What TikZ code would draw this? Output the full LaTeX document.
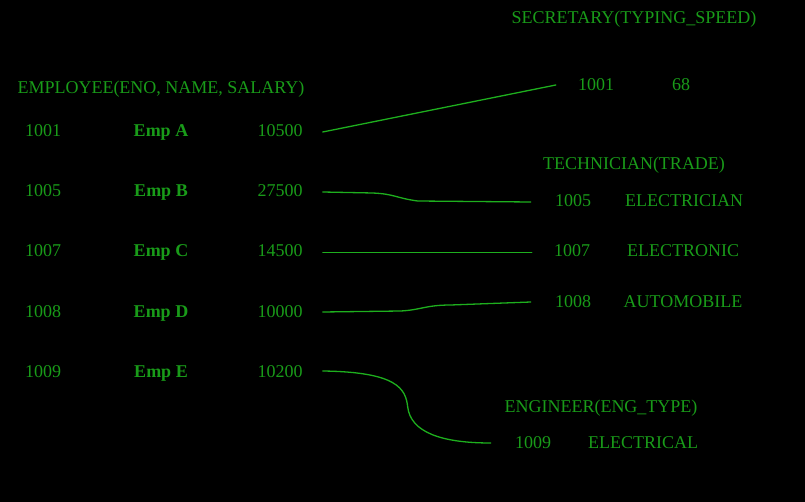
\documentclass[tikz,border=0pt]{standalone}
\usepackage{fontspec}
\setmainfont{Liberation Serif}
\definecolor{txtgreen}{RGB}{25,155,25}
\definecolor{lngreen}{RGB}{30,175,30}
\tikzset{
  lbl/.style={text=txtgreen, font=\fontsize{18}{21}\selectfont, inner sep=0pt, text height=14pt, text depth=2pt, anchor=center},
  blbl/.style={lbl, font=\fontsize{18}{21}\selectfont\bfseries},
  link/.style={draw=lngreen, line width=1.3pt, line cap=round}
}
\begin{document}
\begin{tikzpicture}[x=1pt,y=-1pt]
\fill[black] (0,0) rectangle (805,502);
\useasboundingbox (0,0) rectangle (805,502);
% headings
\node[lbl] (secH) at (634,18) {SECRETARY(TYPING\_SPEED)};
\node[lbl] (empH) at (161,88) {EMPLOYEE(ENO, NAME, SALARY)};
\node[lbl] (tecH) at (634,164) {TECHNICIAN(TRADE)};
\node[lbl] (engH) at (601,406) {ENGINEER(ENG\_TYPE)};
% employee rows
\node[lbl] (e1) at (43,131) {1001};
\node[blbl] (n1) at (161,131) {Emp A};
\node[lbl] (s1) at (280,131) {10500};
\node[lbl] (e2) at (43,191) {1005};
\node[blbl] (n2) at (161,191) {Emp B};
\node[lbl] (s2) at (280,191) {27500};
\node[lbl] (e3) at (43,251) {1007};
\node[blbl] (n3) at (161,251) {Emp C};
\node[lbl] (s3) at (280,251) {14500};
\node[lbl] (e4) at (43,311) {1008};
\node[blbl] (n4) at (161,311) {Emp D};
\node[lbl] (s4) at (280,311) {10000};
\node[lbl] (e5) at (43,371) {1009};
\node[blbl] (n5) at (161,371) {Emp E};
\node[lbl] (s5) at (280,371) {10200};
% secretary
\node[lbl] (sec1) at (596,85) {1001};
\node[lbl] (sec2) at (681,85) {68};
% technician
\node[lbl] (t1) at (573,201) {1005};
\node[lbl] (t1b) at (684,201) {ELECTRICIAN};
\node[lbl] (t2) at (572,251) {1007};
\node[lbl] (t2b) at (683,251) {ELECTRONIC};
\node[lbl] (t3) at (573,302) {1008};
\node[lbl] (t3b) at (683,302) {AUTOMOBILE};
% engineer
\node[lbl] (g1) at (533,442) {1009};
\node[lbl] (g1b) at (643,442) {ELECTRICAL};
% connectors
\coordinate (a1) at ([xshift=20pt,yshift=-1pt]s1.east);
\coordinate (b1) at ([xshift=-22pt]sec1.west);
\draw[link] (a1) -- (b1);
\coordinate (a2) at ([xshift=20pt,yshift=-1pt]s2.east);
\coordinate (b2) at ([xshift=-24pt,yshift=-1pt]t1.west);
\draw[link] (a2) -- ++(50,1) .. controls ++(22,1) and ++(-22,-3) .. ++(45,8) -- (b2);
\coordinate (a3) at ([xshift=20pt,yshift=-1pt]s3.east);
\coordinate (b3) at ([xshift=-22pt,yshift=-1pt]t2.west);
\draw[link, line width=0.9pt] (a3) -- (b3);
\coordinate (a4) at ([xshift=20pt,yshift=-1pt]s4.east);
\coordinate (b4) at ([xshift=-24pt]t3.west);
\draw[link] (a4) -- ++(78,-1) .. controls ++(20,-1) and ++(-25,0) .. ++(50,-6) -- (b4);
\coordinate (a5) at ([xshift=20pt]s5.east);
\coordinate (b5) at ([xshift=-24pt,yshift=-1pt]g1.west);
\draw[link] (a5) .. controls ++(75,1) and ++(-2,-18) .. ++(85,36) .. controls ++(3,25) and ++(-50,0) .. (b5);
\end{tikzpicture}
\end{document}
